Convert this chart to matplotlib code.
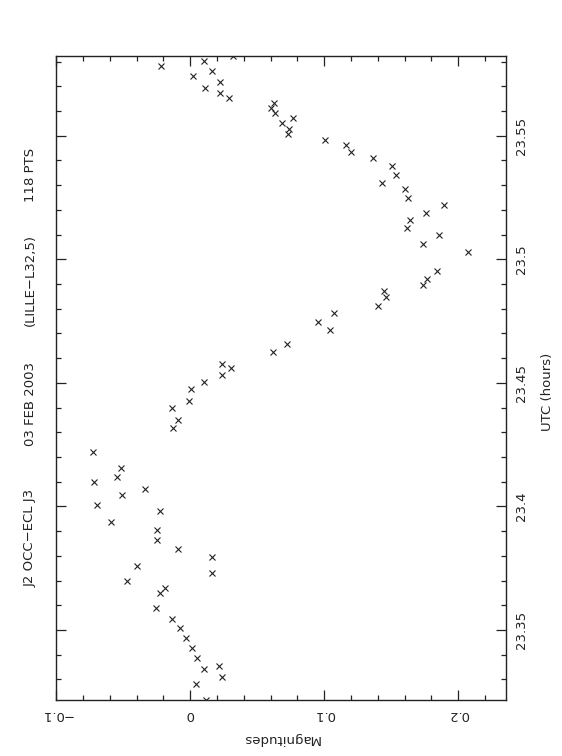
import matplotlib
matplotlib.use("Agg")
import matplotlib.pyplot as plt
from matplotlib.ticker import MultipleLocator, FixedLocator

# Data: magnitude (horizontal) and UTC hours (vertical)
mags = [0.0319, -0.0221, 0.0104, 0.0020, 0.0164, 0.0219, 0.0112, 0.0224, 0.0291,
        0.0627, 0.0602, 0.0634, 0.0764, 0.0687, 0.0734, 0.0731, 0.1003, 0.1162,
        0.1201, 0.1366, 0.1505, 0.1533, 0.1431, 0.1604, 0.1627, 0.1893, 0.1757,
        0.1637, 0.1619, 0.1858, 0.1737, 0.2072, 0.1839, 0.1766, 0.1739, 0.1443,
        0.1463, 0.1401,
        0.1072, 0.0953, 0.1042, 0.0618, 0.0722, 0.0303, 0.0237, 0.0237, 0.0103,
        0.0005, -0.0010, -0.0137, -0.0092, -0.0129, -0.0726, -0.0517, -0.0547,
        -0.0719, -0.0338, -0.0696, -0.0510, -0.0592, -0.0226, -0.0248, -0.0248,
        -0.0092, 0.0162, -0.0397, 0.0162, -0.0472, -0.0188, -0.0226, -0.0256,
        -0.0137, -0.0077, -0.0032, 0.0013, 0.0050, 0.0102, 0.0214, 0.0237,
        0.0043, 0.0117]
utc = [23.5824, 23.5782, 23.5801, 23.5742, 23.5762, 23.5718, 23.5693, 23.5673, 23.5651,
       23.5631, 23.5612, 23.5593, 23.5570, 23.5551, 23.5526, 23.5507, 23.5483, 23.5461,
       23.5435, 23.5409, 23.5376, 23.5340, 23.5307, 23.5283, 23.5249, 23.5221, 23.5189,
       23.5160, 23.5127, 23.5100, 23.5063, 23.5030, 23.4951, 23.4922, 23.4896, 23.4873,
       23.4847, 23.4812,
       23.4783, 23.4746, 23.4714, 23.4625, 23.4657, 23.4560, 23.4577, 23.4532, 23.4504,
       23.4476, 23.4427, 23.4399, 23.4350, 23.4318, 23.4220, 23.4156, 23.4119,
       23.4099, 23.4071, 23.4006, 23.4046, 23.3937, 23.3981, 23.3904, 23.3864,
       23.3828, 23.3796, 23.3759, 23.3731, 23.3698, 23.3670, 23.3650, 23.3589,
       23.3544, 23.3508, 23.3467, 23.3427, 23.3386, 23.3342, 23.3354, 23.3310,
       23.3282, 23.3217]

mag_ticks = [-0.1, 0, 0.1, 0.2]
mag_labels = ["\u22120.1", "0", "0.1", "0.2"]
utc_ticks = [23.35, 23.4, 23.45, 23.5, 23.55]
utc_labels = ["23.35", "23.4", "23.45", "23.5", "23.55"]
title_parts = ["J2 OCC\u2212ECL J3", "03 FEB 2003", "(LILLE\u2212L32,5)", "118 PTS"]

plt.rcParams['font.family'] = ['DejaVu Sans']
fig = plt.figure(figsize=(5.62, 7.56), dpi=100)
W, H = 562, 756
x0, x1, y0, y1 = 56.3, 505.7, 55.7, 700.0
ax = fig.add_axes([x0 / W, 1 - y1 / H, (x1 - x0) / W, (y1 - y0) / H])

ax.plot(mags, utc, linestyle='none', marker='x', markersize=4.5,
        markeredgewidth=0.8, color='#222222')

ax.set_xlim(-0.1, 0.2354)
ax.set_ylim(23.3217, 23.5824)

ax.xaxis.set_major_locator(FixedLocator(mag_ticks))
ax.set_xticklabels(mag_labels)
ax.xaxis.set_minor_locator(MultipleLocator(0.02))
ax.yaxis.set_major_locator(FixedLocator(utc_ticks))
ax.set_yticklabels(utc_labels)
ax.yaxis.set_minor_locator(MultipleLocator(0.01))

ax.tick_params(axis='both', which='both', direction='in', top=True, bottom=True,
               left=True, right=True, color='#222222', width=0.9)
ax.tick_params(axis='both', which='major', length=7)
ax.tick_params(axis='both', which='minor', length=3.5)
ax.tick_params(axis='x', which='major', labelbottom=True, labeltop=False,
               labelrotation=180, labelsize=9.5, pad=6, labelcolor='#222222')
ax.tick_params(axis='y', which='major', labelleft=False, labelright=True,
               labelrotation=90, labelsize=9.5, pad=7, labelcolor='#222222')
for lab in ax.get_yticklabels():
    lab.set_va('center')

for s in ax.spines.values():
    s.set_linewidth(1.0)
    s.set_color('#222222')

fig.text(281 / W, 1 - 738 / H, "Magnitudes", rotation=180, ha='center', va='center',
         fontsize=9.5, color='#222222')
fig.text(547 / W, 1 - 392 / H, "UTC (hours)", rotation=90, ha='center', va='center',
         fontsize=9.5, color='#222222')

title_y = [538, 404, 280, 175]
for t, yy in zip(title_parts, title_y):
    fig.text(30 / W, 1 - yy / H, t, rotation=90, ha='center', va='center',
             fontsize=9.5, color='#222222')

fig.savefig("out.png", dpi=100)
